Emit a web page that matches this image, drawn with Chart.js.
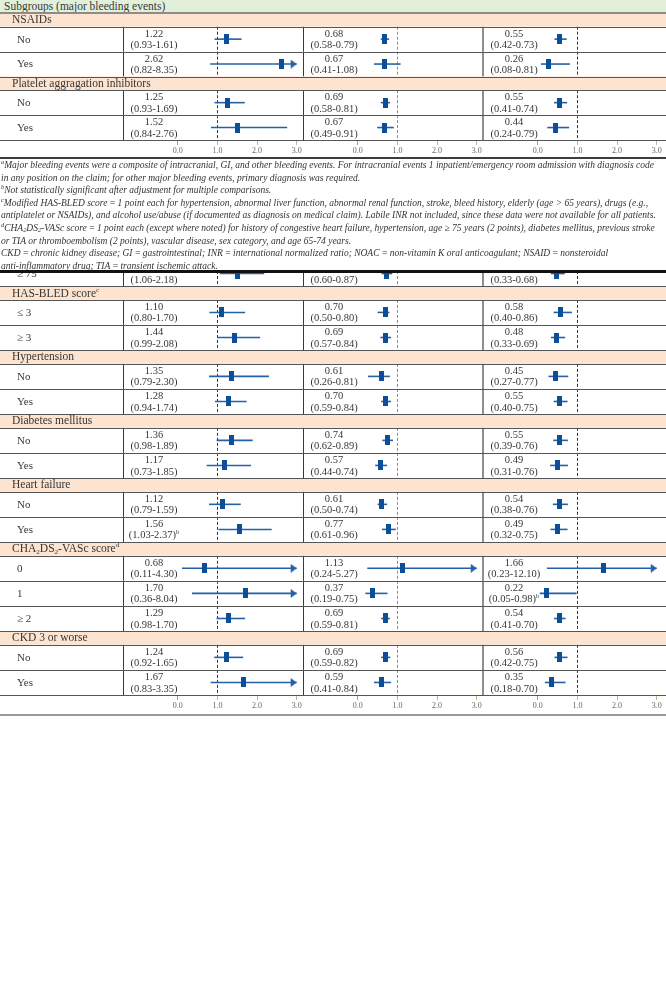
<!DOCTYPE html>
<html><head><meta charset="utf-8">
<script src="https://cdn.jsdelivr.net/npm/chart.js@4.4.1/dist/chart.umd.min.js"></script>
<style>
html,body{margin:0;padding:0;background:#fff;}
#root{position:relative;width:666px;height:991px;overflow:hidden;background:#fff;font-family:"Liberation Serif",serif;color:#333;}
.abs{position:absolute;}
#hdr{left:0;top:0;width:666px;height:13px;background:#e2efd9;font-size:11.5px;line-height:13px;padding-left:4px;box-sizing:border-box;color:#3a3a3a;white-space:nowrap;}
#hdrline{left:0;top:12px;width:666px;height:2px;background:#8c8c8c;z-index:5;}
#topWrap{left:0;top:13px;width:666px;height:145px;}
#topLine{left:0;top:157px;width:666px;height:2px;background:#3c3c3c;}
#notes{left:1px;top:159px;width:666px;font-style:italic;font-size:9.5px;line-height:12.6px;white-space:nowrap;color:#333;}
#notes sup{font-size:6.3px;line-height:0;vertical-align:4px;}
#notes sub{font-size:6.3px;line-height:0;vertical-align:-1px;}
#botClip{left:0;top:271px;width:666px;height:444px;overflow:hidden;}
#botWrap{left:0;top:-10px;width:666px;height:454px;}
#botLine{left:0;top:270px;width:666px;height:3px;background:#111;z-index:5;}
#botAxisLine{left:0;top:714px;width:666px;height:2px;background:#9a9a9a;}
</style></head>
<body>
<div id="root">
  <div id="hdr" class="abs">Subgroups (major bleeding events)</div>
  <div id="topWrap" class="abs"><canvas id="topChart"></canvas></div>
  <div id="hdrline" class="abs"></div>
  <div id="topLine" class="abs"></div>
  <div id="notes" class="abs">
<div><sup>a</sup>Major bleeding events were a composite of intracranial, GI, and other bleeding events. For intracranial events 1 inpatient/emergency room admission with diagnosis code</div>
<div>in any position on the claim; for other major bleeding events, primary diagnosis was required.</div>
<div><sup>b</sup>Not statistically significant after adjustment for multiple comparisons.</div>
<div><sup>c</sup>Modified HAS-BLED score&#8201;=&#8201;1 point each for hypertension, abnormal liver function, abnormal renal function, stroke, bleed history, elderly (age &gt; 65 years), drugs (e.g.,</div>
<div>antiplatelet or NSAIDs), and alcohol use/abuse (if documented as diagnosis on medical claim). Labile INR not included, since these data were not available for all patients.</div>
<div><sup>d</sup>CHA<sub>2</sub>DS<sub>2</sub>-VASc score&#8201;=&#8201;1 point each (except where noted) for history of congestive heart failure, hypertension, age ≥ 75 years (2 points), diabetes mellitus, previous stroke</div>
<div>or TIA or thromboembolism (2 points), vascular disease, sex category, and age 65-74 years.</div>
<div>CKD&#8201;=&#8201;chronic kidney disease; GI&#8201;=&#8201;gastrointestinal; INR&#8201;=&#8201;international normalized ratio; NOAC&#8201;=&#8201;non-vitamin K oral anticoagulant; NSAID&#8201;=&#8201;nonsteroidal</div>
<div>anti-inflammatory drug; TIA&#8201;=&#8201;transient ischemic attack.</div>
  </div>
  <div id="botClip" class="abs"><div id="botWrap" class="abs"><canvas id="botChart"></canvas></div></div>
  <div id="botLine" class="abs"></div>
  <div id="botAxisLine" class="abs"></div>
</div>
<script>
// ---------- axis ----------
const AXIS_MIN = -1.38;
const AXIS_MAX = 3.16;
const TICKS = [0, 1, 2, 3];
const ARROW_AT = 3;

// ---------- top section ----------
const topGroups = ['NSAIDs', 'Platelet aggragation inhibitors'];
const topSubgroups = [['No', 'Yes'], ['No', 'Yes']];
const topEstA = [1.22, 2.62, 1.25, 1.52];
const topLoA  = [0.93, 0.82, 0.93, 0.84];
const topHiA  = [1.61, 8.35, 1.69, 2.76];
const topEstB = [0.68, 0.67, 0.69, 0.67];
const topLoB  = [0.58, 0.41, 0.58, 0.49];
const topHiB  = [0.79, 1.08, 0.81, 0.91];
const topEstC = [0.55, 0.26, 0.55, 0.44];
const topLoC  = [0.42, 0.08, 0.41, 0.24];
const topHiC  = [0.73, 0.81, 0.74, 0.79];
const topNoteA = ['', '', '', ''];
const topNoteB = ['', '', '', ''];
const topNoteC = ['', '', '', ''];

// ---------- bottom section ----------
const botGroups = ['', 'HAS-BLED score^c', 'Hypertension', 'Diabetes mellitus', 'Heart failure', 'CHA_2DS_2-VASc score^d', 'CKD 3 or worse'];
const botSubgroups = [['≥ 75'], ['≤ 3', '≥ 3'], ['No', 'Yes'], ['No', 'Yes'], ['No', 'Yes'], ['0', '1', '≥ 2'], ['No', 'Yes']];
const botEstA = [1.52, 1.10, 1.44, 1.35, 1.28, 1.36, 1.17, 1.12, 1.56, 0.68, 1.70, 1.29, 1.24, 1.67];
const botLoA  = [1.06, 0.80, 0.99, 0.79, 0.94, 0.98, 0.73, 0.79, 1.03, 0.11, 0.36, 0.98, 0.92, 0.83];
const botHiA  = [2.18, 1.70, 2.08, 2.30, 1.74, 1.89, 1.85, 1.59, 2.37, 4.30, 8.04, 1.70, 1.65, 3.35];
const botEstB = [0.72, 0.70, 0.69, 0.61, 0.70, 0.74, 0.57, 0.61, 0.77, 1.13, 0.37, 0.69, 0.69, 0.59];
const botLoB  = [0.60, 0.50, 0.57, 0.26, 0.59, 0.62, 0.44, 0.50, 0.61, 0.24, 0.19, 0.59, 0.59, 0.41];
const botHiB  = [0.87, 0.80, 0.84, 0.81, 0.84, 0.89, 0.74, 0.74, 0.96, 5.27, 0.75, 0.81, 0.82, 0.84];
const botEstC = [0.47, 0.58, 0.48, 0.45, 0.55, 0.55, 0.49, 0.54, 0.49, 1.66, 0.22, 0.54, 0.56, 0.35];
const botLoC  = [0.33, 0.40, 0.33, 0.27, 0.40, 0.39, 0.31, 0.38, 0.32, 0.23, 0.05, 0.41, 0.42, 0.18];
const botHiC  = [0.68, 0.86, 0.69, 0.77, 0.75, 0.76, 0.76, 0.76, 0.75, 12.10, 0.98, 0.70, 0.75, 0.70];
const botNoteA = ['', '', '', '', '', '', '', '', 'b', '', '', '', '', ''];
const botNoteB = ['', '', '', '', '', '', '', '', '', '', '', '', '', ''];
const botNoteC = ['', '', '', '', '', '', '', '', '', '', 'b', '', '', ''];

// ---------- styles ----------
const BAND_U = 0.55;
const BAND_BG = '#fce4d1';
const TEXT = '#363636';
const MARK = '#0d4e98';
const WHISKER = '#2461a8';
const ROW_LINE = '#555555';
const FONT = '"Liberation Serif", serif';

function rectImg() {
  const c = document.createElement('canvas'); c.width = 5; c.height = 10;
  const g = c.getContext('2d'); g.fillStyle = MARK; g.fillRect(0, 0, 5, 10); return c;
}
function triImg() {
  const c = document.createElement('canvas'); c.width = 14; c.height = 9;
  const g = c.getContext('2d'); g.fillStyle = WHISKER;
  g.beginPath(); g.moveTo(1, 0); g.lineTo(7, 4.5); g.lineTo(1, 9); g.closePath(); g.fill(); return c;
}
const MARK_IMG = rectImg();
const TRI_IMG = triImg();

function parseRich(s) {
  const segs = [];
  for (let i = 0; i < s.length; i++) {
    const ch = s[i];
    if ((ch === '^' || ch === '_') && i + 1 < s.length) {
      segs.push({t: s[i + 1], k: ch === '^' ? 'sup' : 'sub'}); i++;
    } else {
      if (segs.length && segs[segs.length - 1].k === 'n') segs[segs.length - 1].t += ch;
      else segs.push({t: ch, k: 'n'});
    }
  }
  return segs;
}
function drawRich(ctx, s, x, y, size, align, color) {
  const segs = parseRich(s);
  const small = size * 0.62;
  let w = 0;
  segs.forEach(sg => {
    ctx.font = (sg.k === 'n' ? size : small) + 'px ' + FONT;
    sg.w = ctx.measureText(sg.t).width; w += sg.w;
  });
  let cx = align === 'center' ? x - w / 2 : x;
  ctx.fillStyle = color; ctx.textBaseline = 'middle'; ctx.textAlign = 'left';
  segs.forEach(sg => {
    ctx.font = (sg.k === 'n' ? size : small) + 'px ' + FONT;
    const dy = sg.k === 'sup' ? -size * 0.33 : (sg.k === 'sub' ? size * 0.25 : 0);
    ctx.fillText(sg.t, cx, y + dy); cx += sg.w;
  });
}

function buildRows(groups, subgroups) {
  const rows = []; let pos = 0; let di = 0;
  groups.forEach((g, gi) => {
    if (g) { rows.push({type: 'band', label: g, start: pos, end: pos + BAND_U}); pos += BAND_U; }
    subgroups[gi].forEach(s => { rows.push({type: 'data', label: s, idx: di++, start: pos, end: pos + 1}); pos += 1; });
  });
  return {rows, total: pos};
}

function makePlugin(rows, panels) {
  return {
    id: 'forestGrid',
    beforeDatasetsDraw(chart) {
      const {ctx} = chart; const y = chart.scales.y; const W = chart.width;
      ctx.save();
      rows.forEach(r => {
        const t = y.getPixelForValue(r.start), b = y.getPixelForValue(r.end), m = (t + b) / 2;
        if (r.type === 'band') {
          ctx.fillStyle = BAND_BG; ctx.fillRect(0, t, W, b - t);
          drawRich(ctx, r.label, 12, m + 0.5, 11.5, 'left', TEXT);
          return;
        }
        drawRich(ctx, r.label, 17, m + 0.5, 11, 'left', TEXT);
        panels.forEach((p, k) => {
          const sc = chart.scales['x' + k];
          ctx.strokeStyle = k === 2 ? '#8e8e8e' : '#3a3a3a';
          ctx.lineWidth = k === 2 ? 2 : 1;
          ctx.setLineDash([]);
          const lx = k === 2 ? Math.round(sc.left) : Math.round(sc.left) + 0.5;
          ctx.beginPath(); ctx.moveTo(lx, t); ctx.lineTo(lx, b); ctx.stroke();
          const rx = Math.round(sc.getPixelForValue(1)) + 0.5;
          ctx.strokeStyle = k === 1 ? '#8a8a8a' : '#333'; ctx.lineWidth = 1;
          ctx.setLineDash([3, 2]);
          ctx.beginPath(); ctx.moveTo(rx, t); ctx.lineTo(rx, b); ctx.stroke();
          ctx.setLineDash([]);
          const i = r.idx; const cx = sc.left + 31;
          drawRich(ctx, p.est[i].toFixed(2), cx, m - 5.2, 10.5, 'center', TEXT);
          const ci = '(' + p.lo[i].toFixed(2) + '-' + p.hi[i].toFixed(2) + ')' + (p.note[i] ? '^' + p.note[i] : '');
          drawRich(ctx, ci, cx, m + 6.3, 10.5, 'center', TEXT);
        });
      });
      ctx.strokeStyle = ROW_LINE; ctx.lineWidth = 1;
      const ys = new Set();
      rows.forEach(r => { ys.add(r.start); ys.add(r.end); });
      ys.forEach(v => {
        const py = Math.round(y.getPixelForValue(v)) + 0.5;
        ctx.beginPath(); ctx.moveTo(0, py); ctx.lineTo(W, py); ctx.stroke();
      });
      ctx.restore();
    }
  };
}

function xScale(axisH) {
  return {
    type: 'linear', position: 'bottom', stack: 'panels', stackWeight: 1,
    min: AXIS_MIN, max: AXIS_MAX,
    afterBuildTicks: s => { s.ticks = TICKS.map(v => ({value: v})); },
    afterFit: s => { s.height = axisH; },
    grid: {drawOnChartArea: false, drawTicks: true, tickLength: 5, tickWidth: 1,
           tickColor: c => (c.tick && c.tick.value === 0) ? '#c48aa0' : '#cdb08a'},
    border: {display: false},
    ticks: {autoSkip: false, maxRotation: 0, minRotation: 0, padding: 1,
            font: {family: 'Liberation Serif', size: 8}, color: '#666',
            callback: v => Number(v).toFixed(1)}
  };
}

function makeChart(id, groups, subgroups, panels, axisH) {
  const {rows, total} = buildRows(groups, subgroups);
  const datasets = [];
  panels.forEach((p, k) => {
    const ax = 'x' + k;
    const dataRows = rows.filter(r => r.type === 'data');
    datasets.push({
      type: 'scatter', xAxisID: ax, yAxisID: 'y', order: 0,
      data: dataRows.map(r => ({x: p.est[r.idx], y: (r.start + r.end) / 2})),
      pointStyle: MARK_IMG, pointRadius: 5, pointHoverRadius: 5
    });
    datasets.push({
      type: 'scatter', xAxisID: ax, yAxisID: 'y', order: 1,
      data: dataRows.filter(r => p.hi[r.idx] > ARROW_AT).map(r => ({x: ARROW_AT, y: (r.start + r.end) / 2})),
      pointStyle: TRI_IMG, pointRadius: 5, pointHoverRadius: 5
    });
    dataRows.forEach(r => {
      const yy = (r.start + r.end) / 2;
      datasets.push({
        type: 'scatter', xAxisID: ax, yAxisID: 'y', order: 2, showLine: true,
        data: [{x: p.lo[r.idx], y: yy}, {x: Math.min(p.hi[r.idx], ARROW_AT), y: yy}],
        borderColor: WHISKER, borderWidth: 1.6, pointRadius: 0, pointHoverRadius: 0
      });
    });
  });
  const scales = {y: {type: 'linear', reverse: true, min: 0, max: total, display: false}};
  panels.forEach((p, k) => { scales['x' + k] = xScale(axisH); });
  return new Chart(document.getElementById(id), {
    type: 'scatter',
    data: {datasets},
    options: {
      responsive: true, maintainAspectRatio: false, animation: false, events: [],
      layout: {padding: {left: 123, right: 0, top: 0, bottom: 0}, autoPadding: false},
      plugins: {legend: {display: false}, tooltip: {enabled: false}},
      scales
    },
    plugins: [makePlugin(rows, panels)]
  });
}

makeChart('topChart', topGroups, topSubgroups, [
  {est: topEstA, lo: topLoA, hi: topHiA, note: topNoteA},
  {est: topEstB, lo: topLoB, hi: topHiB, note: topNoteB},
  {est: topEstC, lo: topLoC, hi: topHiC, note: topNoteC}
], 18);

makeChart('botChart', botGroups, botSubgroups, [
  {est: botEstA, lo: botLoA, hi: botHiA, note: botNoteA},
  {est: botEstB, lo: botLoB, hi: botHiB, note: botNoteB},
  {est: botEstC, lo: botLoC, hi: botHiC, note: botNoteC}
], 20);
</script>
</body></html>
